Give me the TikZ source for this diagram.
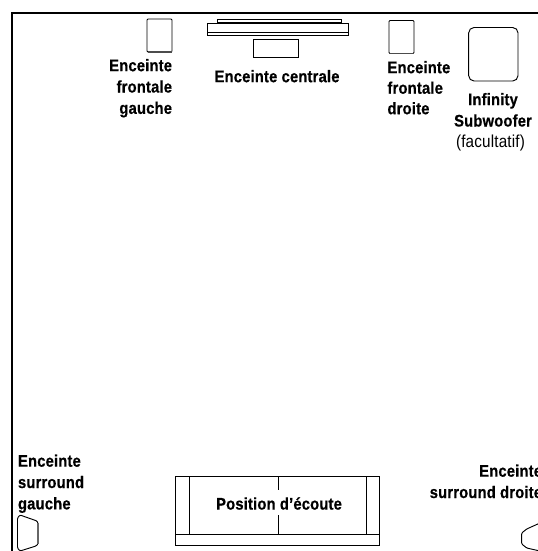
\documentclass[tikz,border=0pt]{standalone}
\usepackage{fontspec}
\setmainfont{Liberation Sans}
\newfontfamily\labelfont[FakeStretch=0.88,LetterSpace=1.0,BoldFeatures={FakeBold=0.5}]{Liberation Sans}
\tikzset{speaker/.style={draw=black, line width=0.7pt, rounded corners=0.8pt},
label/.style={inner sep=0pt, outer sep=0pt, font=\labelfont\bfseries\fontsize{12.6}{16}\selectfont},
}

\begin{document}
\begin{tikzpicture}[x=0.75pt,y=-0.75pt]

\useasboundingbox (0,0) rectangle (538,551);

\coordinate (corner) at (12,13);
\coordinate (top) at (538,13);
\coordinate (bottom) at (12,551);

\draw[line width=0.95pt] (top) -- (corner) -- (bottom);

% front speakers
\foreach \x/\y in {147/19,389/20.5}
{
    \draw[speaker] (\x,\y) rectangle ++(25,33);
    \draw[line width=1.2pt, black!70] (\x+0.5,\y+33) -- ++(24,0);
}

% centre speaker and screen
\draw[line width=0.7pt] (217,19.5) rectangle (341,23);
\draw[line width=1.3pt] (217,23) -- (341,23);
\draw[line width=0.7pt] (207.5,23.5) rectangle (348,35);
\draw[line width=0.7pt] (207.5,32) -- (348,32);
\draw[line width=0.7pt] (253.5,39) rectangle (298.5,57);

% subwoofer
\draw[speaker, rounded corners=4pt] (468.7,27.5) rectangle (518,81);

% surround speakers
\draw[speaker] (17.5,518) -- (20,515) -- (37,521) -- (38,523) -- (38,544) -- (36,546) -- (20,551) -- (17.5,548) -- cycle;
\draw[line width=1.1pt, black!60] (38,523) -- (38,544);
\draw[speaker] (540,523) -- (526.7,529) -- (521.7,533) -- (521.7,544) -- (526.7,548) -- (540,551);

% listening position
\draw[line width=0.7pt] (175.7,476.7) rectangle (379.7,545);
\draw[line width=0.7pt] (175.7,534.3) -- (379.7,534.3);
\foreach \x in {189.3,366}
    \draw[line width=0.7pt] (\x,476.7) -- (\x,534.3);
\draw[line width=0.7pt] (278.7,476.7) -- (278.7,490);
\draw[line width=0.7pt] (278.7,515) -- (278.7,534.3);

\node[label, anchor=north east, align=right] (frontleft) at (172,59) {Enceinte\\frontale\\gauche};
\node[label, anchor=north] (centre) at (277,70) {Enceinte centrale};
\node[label, anchor=north west, align=left] (frontright) at (387.5,61) {Enceinte\\[-0.6pt]frontale\\[-0.6pt]droite};
\node[label, anchor=north, align=center] (sub) at (493,93) {Infinity\\Subwoofer};
\node[label, anchor=north, font=\labelfont\fontsize{13}{16}\selectfont] (subnote) at (490.5,135) {(facultatif)};
\node[label, anchor=north west, align=left] (surleft) at (18,454.5) {Enceinte\\surround\\gauche};
\node[label, anchor=north east, align=right] (surright) at (542,464.5) {Enceinte\\surround droite};
\node[label] (listen) at (279,503.5) {Position d’écoute};

\end{tikzpicture}
\end{document}
